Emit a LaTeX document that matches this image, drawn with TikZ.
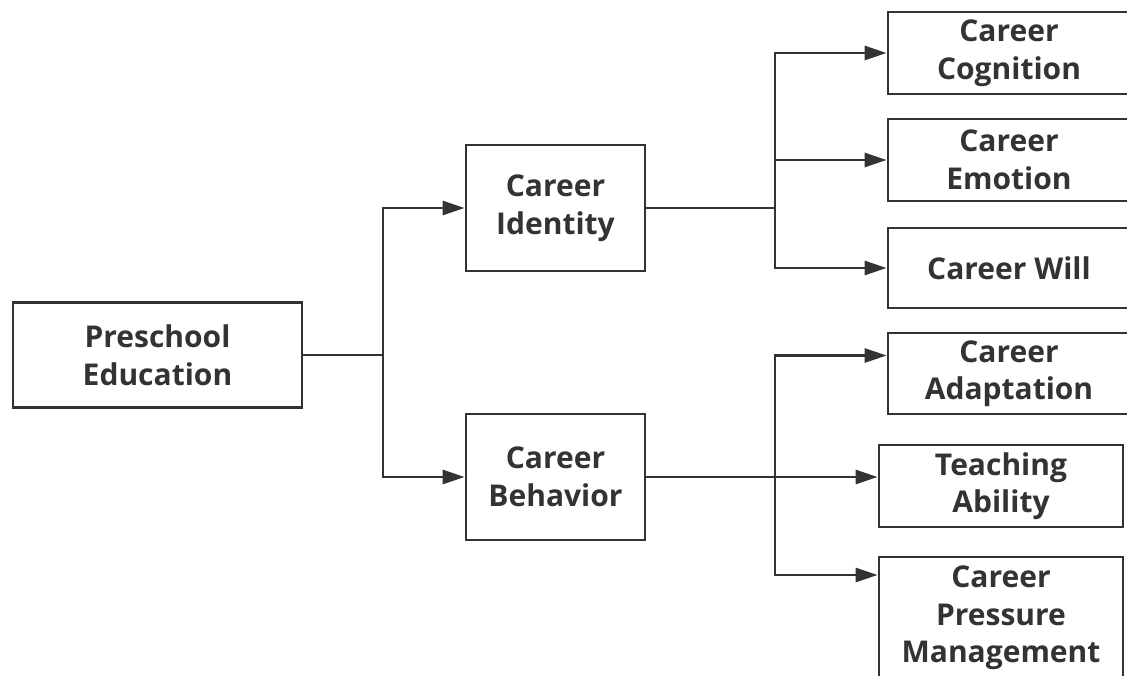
\documentclass[tikz,border=0pt]{standalone}
\usepackage{xcolor}
\usepackage{fontspec}
\setmainfont{Open Sans}
\usepackage{tikz}
\usetikzlibrary{arrows.meta}
\definecolor{ink}{HTML}{333333}
\tikzset{
  font={\fontsize{30pt}{37.5pt}\selectfont\bfseries}}

\begin{document}
\begin{tikzpicture}[x=1pt, y=-1pt]

        \tikzset{box/.style = {draw=ink, text=ink, line width=2.8pt, rectangle, align=center, inner sep=0pt}}
        \tikzset{edge/.style = {-{Triangle[length=22pt,width=14pt]}, draw=ink, line width=2.8pt}}

        \useasboundingbox (0,0) rectangle (1127,676);
        \clip (0,0) rectangle (1127,676);

        % vertices
    	\node[box, minimum width=289pt, minimum height=105pt] (pre)
    		at (157.5,355) {Preschool\\Education};
    	\node[box, minimum width=179pt, minimum height=126pt] (ident)
    		at (555.5,208) {Career\\Identity};
    	\node[box, minimum width=179pt, minimum height=126pt] (behav)
    		at (555.5,477) {Career\\Behavior};
    	\node[box, minimum width=242pt, minimum height=82pt] (cogn)
    		at (1009,53) {Career\\Cognition};
    	\node[box, minimum width=242pt, minimum height=82pt] (emot)
    		at (1009,160) {Career\\Emotion};
    	\node[box, minimum width=242pt, minimum height=80pt] (will)
    		at (1009,268) {Career Will};
    	\node[box, minimum width=242pt, minimum height=81pt] (adapt)
    		at (1009,373.5) {Career\\Adaptation};
    	\node[box, minimum width=244pt, minimum height=82pt] (teach)
    		at (1001,486) {Teaching\\Ability};
    	\node[box, minimum width=244pt, minimum height=122pt] (press)
    		at (1001,618) {Career\\Pressure\\Management};
        \coordinate (ja) at (383,355);
        \coordinate (jb) at (775,208);
        \coordinate (jc) at (775,477);

        %edges
        \draw[draw=ink, line width=2.8pt] (pre.east) -- (ja);
        \draw[edge] (ja) |- (ident.west);
        \draw[edge] (ja) |- (behav.west);
        \draw[draw=ink, line width=2.8pt] (ident.east) -- (jb);
        \draw[edge] (jb) |- (cogn.west);
        \draw[edge] (jb) |- (emot.west);
        \draw[edge] (jb) |- (will.west);
        \draw[edge] (behav.east) -- (behav.east -| teach.west);
        \draw[edge] (jc) |- ([yshift=18pt]adapt.west);
        \draw[edge] (jc) |- ([yshift=43pt]press.west);

        \end{tikzpicture}
\end{document}
